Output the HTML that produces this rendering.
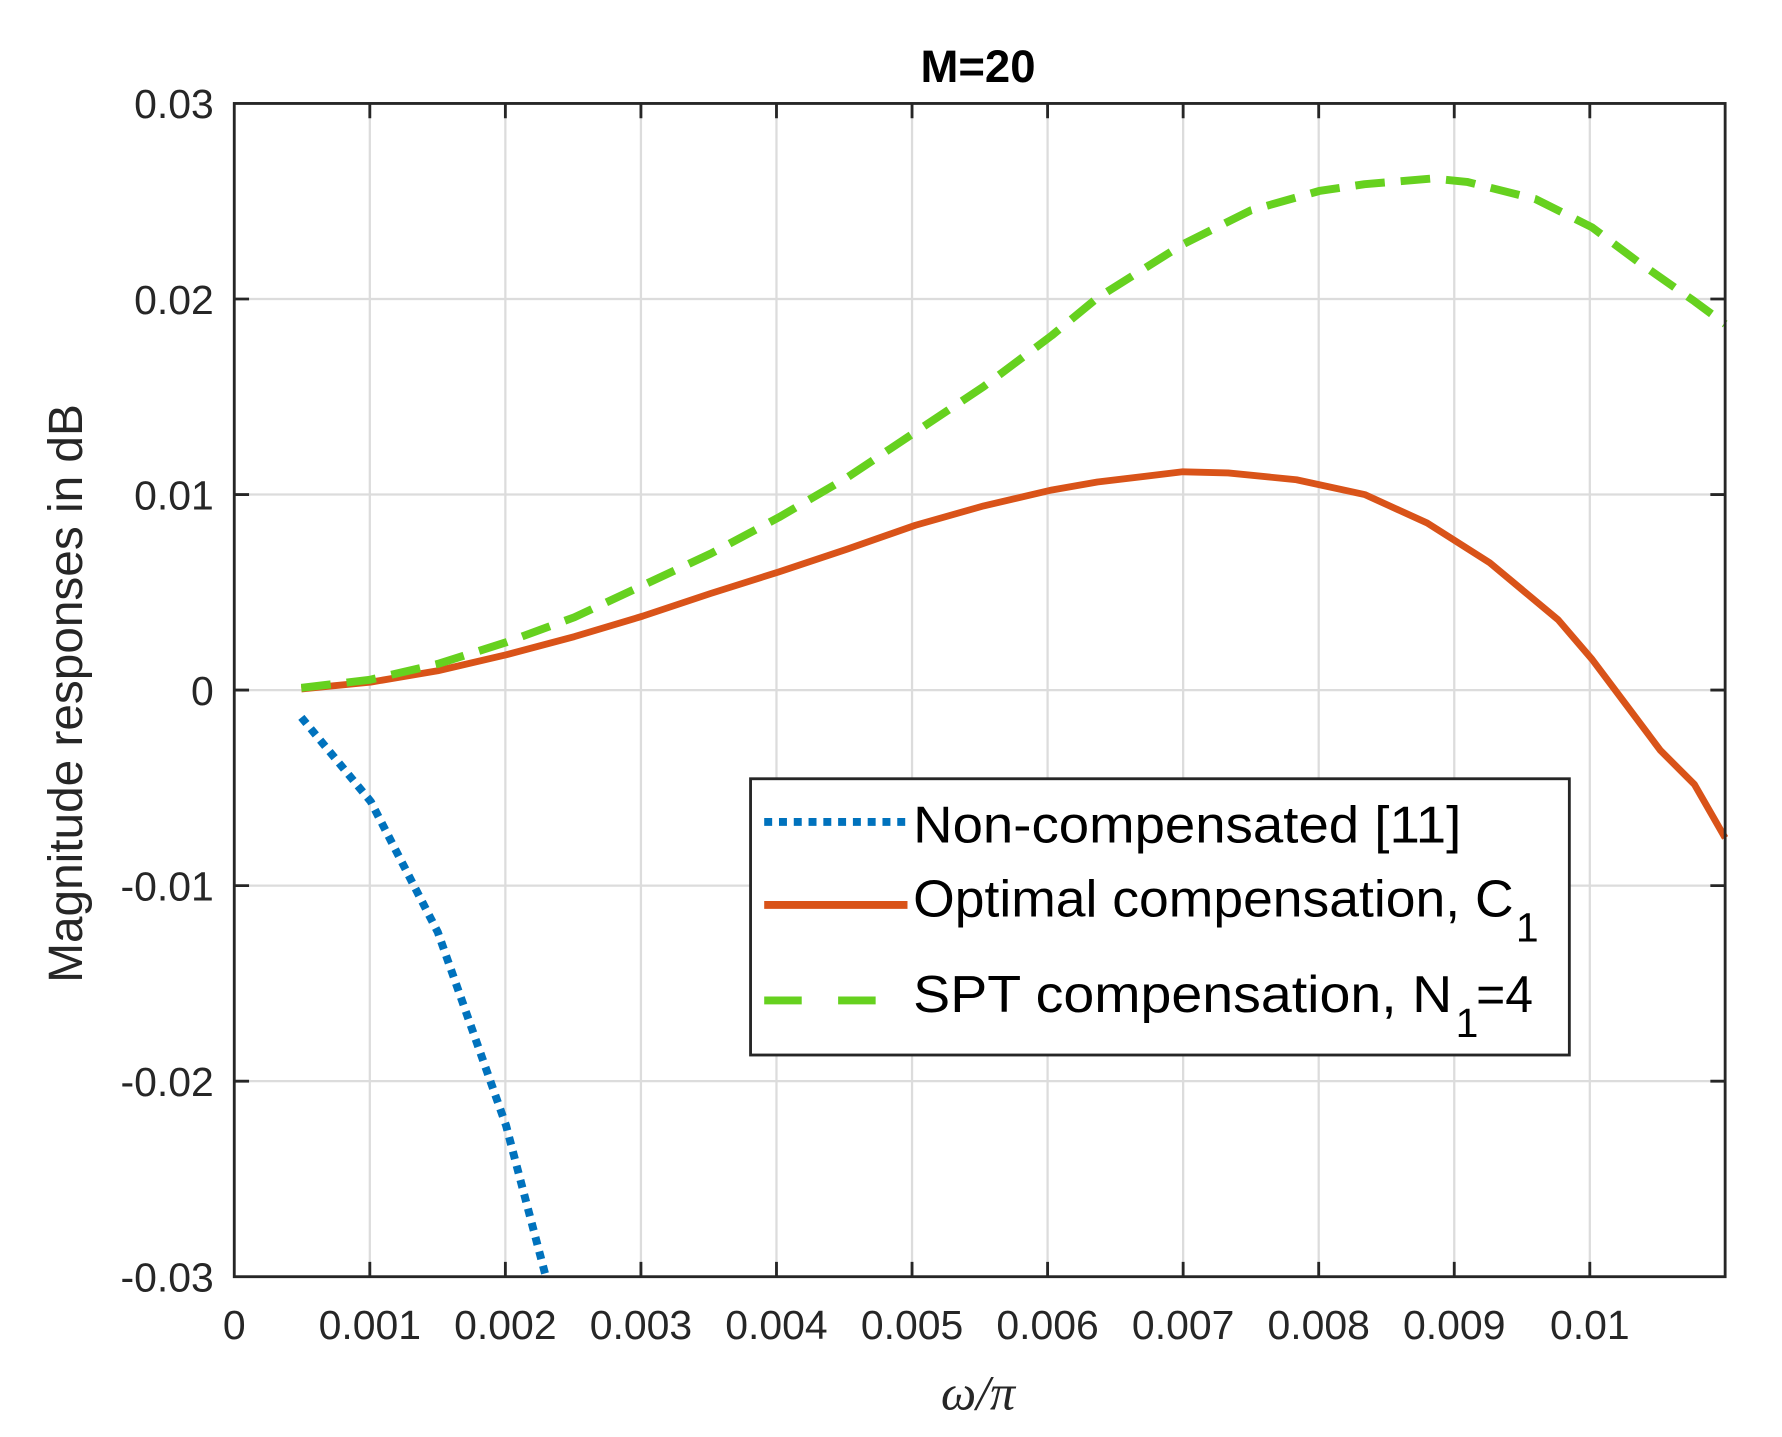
<!DOCTYPE html>
<html><head><meta charset="utf-8"><style>html,body{margin:0;padding:0;background:#fff}svg{display:block}</style></head>
<body>
<svg width="1782" height="1437" viewBox="0 0 1567 1264" preserveAspectRatio="none" xmlns="http://www.w3.org/2000/svg" font-family="Liberation Sans, Arial, sans-serif">
<rect width="1567" height="1264" fill="#fff"/>
<g stroke="#dcdcdc" stroke-width="2">
<line x1="325.2" y1="91" x2="325.2" y2="1123"/><line x1="444.4" y1="91" x2="444.4" y2="1123"/><line x1="563.6" y1="91" x2="563.6" y2="1123"/><line x1="682.8" y1="91" x2="682.8" y2="1123"/><line x1="802" y1="91" x2="802" y2="1123"/><line x1="921.2" y1="91" x2="921.2" y2="1123"/><line x1="1040.4" y1="91" x2="1040.4" y2="1123"/><line x1="1159.6" y1="91" x2="1159.6" y2="1123"/><line x1="1278.8" y1="91" x2="1278.8" y2="1123"/><line x1="1398" y1="91" x2="1398" y2="1123"/>
<line x1="206" y1="263" x2="1517" y2="263"/><line x1="206" y1="435" x2="1517" y2="435"/><line x1="206" y1="607" x2="1517" y2="607"/><line x1="206" y1="779" x2="1517" y2="779"/><line x1="206" y1="951" x2="1517" y2="951"/>
</g>
<g stroke="#262626" stroke-width="2.5">
<path d="M325.2 91v13M444.4 91v13M563.6 91v13M682.8 91v13M802 91v13M921.2 91v13M1040.4 91v13M1159.6 91v13M1278.8 91v13M1398 91v13"/>
<path d="M325.2 1123v-13M444.4 1123v-13M563.6 1123v-13M682.8 1123v-13M802 1123v-13M921.2 1123v-13M1040.4 1123v-13M1159.6 1123v-13M1278.8 1123v-13M1398 1123v-13"/>
<path d="M206 263h13M206 435h13M206 607h13M206 779h13M206 951h13M1517 263h-13M1517 435h-13M1517 607h-13M1517 779h-13M1517 951h-13"/>
</g>
<g fill="none" stroke-linejoin="round">
<polyline stroke="#0072BD" stroke-width="7" stroke-dasharray="7,6" points="265,631 326,705 385,820 445,990 480,1123"/>
<polyline stroke="#D95319" stroke-width="6" points="265,606 326,600 385,590 445,576 505,560 565,542 625,522 685,503 745,483 805,462 865,445 925,431 965,424 1040,415 1080,416 1140,422 1200,435 1255,460 1310,495 1370,545 1400,580 1430,620 1460,660 1490,690 1517,737"/>
<polyline stroke="#66D11F" stroke-width="7" stroke-dasharray="26,14" points="265,605 325,598 385,584 445,565 505,543 565,515 625,487 685,455 745,420 805,380 865,340 925,295 965,262 1040,215 1100,185 1160,168 1200,162 1260,157 1290,160 1350,175 1400,200 1440,230 1490,265 1517,285"/>
</g>
<rect x="206" y="91" width="1311" height="1032" fill="none" stroke="#262626" stroke-width="2.5"/>
<g font-size="36" fill="#262626">
<g text-anchor="end">
<text x="188" y="104">0.03</text><text x="188" y="276">0.02</text><text x="188" y="448">0.01</text><text x="188" y="620">0</text><text x="188" y="792">-0.01</text><text x="188" y="964">-0.02</text><text x="188" y="1136">-0.03</text>
</g>
<g text-anchor="middle">
<text x="206" y="1178">0</text><text x="325.2" y="1178">0.001</text><text x="444.4" y="1178">0.002</text><text x="563.6" y="1178">0.003</text><text x="682.8" y="1178">0.004</text><text x="802" y="1178">0.005</text><text x="921.2" y="1178">0.006</text><text x="1040.4" y="1178">0.007</text><text x="1159.6" y="1178">0.008</text><text x="1278.8" y="1178">0.009</text><text x="1398" y="1178">0.01</text>
</g>
</g>
<text x="860" y="72" font-size="40" font-weight="bold" text-anchor="middle" fill="#000">M=20</text>
<text x="860" y="1240" font-size="44" font-style="italic" font-family="Liberation Serif, serif" text-anchor="middle" fill="#262626">ω/π</text>
<text transform="translate(72,610) rotate(-90)" font-size="42" text-anchor="middle" fill="#262626">Magnitude responses in dB</text>
<rect x="660" y="685" width="720" height="243" fill="#fff" stroke="#262626" stroke-width="2.5"/>
<line x1="672" y1="723" x2="798" y2="723" stroke="#0072BD" stroke-width="7" stroke-dasharray="7,6"/>
<line x1="672" y1="796" x2="798" y2="796" stroke="#D95319" stroke-width="7"/>
<line x1="672" y1="880" x2="798" y2="880" stroke="#66D11F" stroke-width="7" stroke-dasharray="33,32"/>
<g font-size="46" fill="#000">
<text x="803" y="741" textLength="482" lengthAdjust="spacingAndGlyphs">Non-compensated [11]</text>
<text x="803" y="806" textLength="528" lengthAdjust="spacingAndGlyphs">Optimal compensation, C</text>
<text x="1333" y="828" font-size="36">1</text>
<text x="803" y="890" textLength="474" lengthAdjust="spacingAndGlyphs">SPT compensation, N</text>
<text x="1280" y="912" font-size="36">1</text>
<text x="1298" y="890" textLength="50" lengthAdjust="spacingAndGlyphs">=4</text>
</g>
</svg>
</body></html>
